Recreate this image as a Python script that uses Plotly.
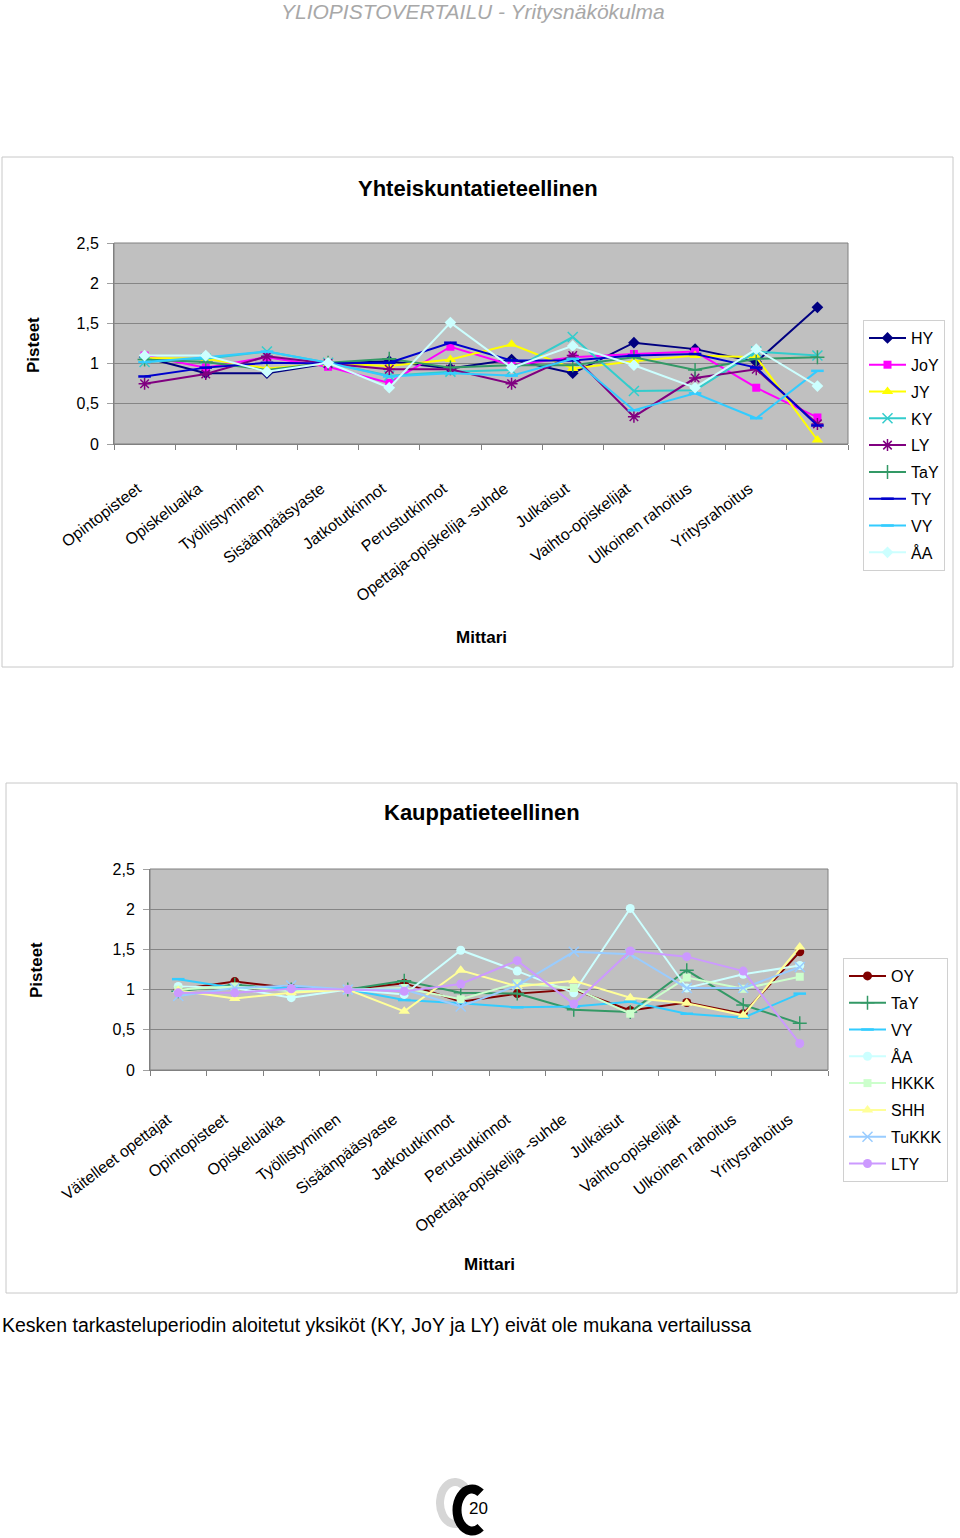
import math
import plotly.graph_objects as go

W, H = 960, 1538
def X(px): return px / W
def Y(py): return 1 - py / H

# ---------------- data ----------------
top_categories = ["Opintopisteet", "Opiskeluaika", "Työllistyminen", "Sisäänpääsyaste",
                  "Jatkotutkinnot", "Perustutkinnot", "Opettaja-opiskelija -suhde", "Julkaisut",
                  "Vaihto-opiskelijat", "Ulkoinen rahoitus", "Yritysrahoitus", " "]
top_HY = [1.08, 0.88, 0.88, 1.00, 1.03, 0.94, 1.05, 0.88, 1.26, 1.18, 1.02, 1.70]
top_JoY = [1.10, 0.95, 1.08, 0.96, 0.76, 1.21, 0.98, 1.08, 1.12, 1.15, 0.70, 0.33]
top_JY = [1.07, 1.06, 0.94, 1.00, 0.97, 1.05, 1.24, 0.94, 1.03, 1.10, 1.08, 0.05]
top_KY = [1.02, 1.06, 1.15, 1.01, 0.85, 0.90, 0.92, 1.33, 0.66, 0.67, 1.15, 1.10]
top_LY = [0.75, 0.87, 1.09, 1.00, 0.93, 0.93, 0.75, 1.10, 0.34, 0.82, 0.93, 0.25]
top_TaY = [1.05, 1.02, 0.92, 1.01, 1.06, 0.95, 0.98, 0.98, 1.08, 0.92, 1.06, 1.08]
top_TY = [0.84, 0.95, 1.01, 1.00, 1.01, 1.26, 1.04, 1.04, 1.10, 1.12, 0.95, 0.23]
top_VY = [1.02, 1.08, 1.15, 1.01, 0.84, 0.88, 0.85, 1.06, 0.42, 0.63, 0.32, 0.91]
top_AA = [1.10, 1.10, 0.90, 1.01, 0.70, 1.51, 0.95, 1.22, 0.98, 0.70, 1.18, 0.72]

bot_categories = ["Väitelleet opettajat", "Opintopisteet", "Opiskeluaika", "Työllistyminen",
                  "Sisäänpääsyaste", "Jatkotutkinnot", "Perustutkinnot", "Opettaja-opiskelija -suhde",
                  "Julkaisut", "Vaihto-opiskelijat", "Ulkoinen rahoitus", "Yritysrahoitus"]
bot_OY = [1.00, 1.10, 1.02, 1.00, 1.08, 0.85, 0.95, 1.00, 0.74, 0.84, 0.70, 1.47]
bot_TaY = [0.98, 1.06, 1.00, 1.00, 1.11, 0.96, 0.95, 0.75, 0.72, 1.24, 0.81, 0.58]
bot_VY = [1.13, 1.02, 1.02, 1.00, 0.87, 0.83, 0.78, 0.79, 0.85, 0.70, 0.65, 0.95]
bot_AA = [1.04, 1.02, 0.90, 1.00, 0.94, 1.49, 1.23, 0.96, 2.01, 1.02, 1.19, 1.30]
bot_HKKK = [1.00, 1.04, 0.98, 1.00, 1.02, 0.88, 1.08, 1.02, 0.70, 1.15, 1.01, 1.16]
bot_SHH = [0.99, 0.89, 0.96, 1.00, 0.73, 1.24, 1.04, 1.11, 0.90, 0.83, 0.68, 1.53]
bot_TuKKK = [0.92, 1.02, 1.05, 1.00, 1.00, 0.79, 1.05, 1.47, 1.44, 1.02, 1.02, 1.28]
bot_LTY = [0.96, 0.96, 1.01, 1.00, 0.98, 1.07, 1.36, 0.82, 1.48, 1.41, 1.23, 0.33]

y_tickvals = [0, 0.5, 1, 1.5, 2, 2.5]
y_ticktext = ["0", "0,5", "1", "1,5", "2", "2,5"]

FONT = "Liberation Sans, Arial, sans-serif"

# (name, values, color, symbol, size, open)
top_series = [
    ("HY", top_HY, "#000080", "diamond", 9, False),
    ("JoY", top_JoY, "#FF00FF", "square", 8, False),
    ("JY", top_JY, "#FFFF00", "triangle-up", 10, False),
    ("KY", top_KY, "#33CCCC", "x-thin-open", 10, True),
    ("LY", top_LY, "#800080", "asterisk-open", 10, True),
    ("TaY", top_TaY, "#339966", "cross-thin-open", 10, True),
    ("TY", top_TY, "#0000CC", "line-ew-open", 9, True),
    ("VY", top_VY, "#33CCFF", "line-ew-open", 9, True),
    ("ÅA", top_AA, "#CCFFFF", "diamond", 9, False),
]
bot_series = [
    ("OY", bot_OY, "#800000", "circle", 9, False),
    ("TaY", bot_TaY, "#339966", "cross-thin-open", 10, True),
    ("VY", bot_VY, "#33CCFF", "line-ew-open", 9, True),
    ("ÅA", bot_AA, "#CCFFFF", "circle", 9, False),
    ("HKKK", bot_HKKK, "#CCFFCC", "square", 8, False),
    ("SHH", bot_SHH, "#FFFF99", "triangle-up", 10, False),
    ("TuKKK", bot_TuKKK, "#99CCFF", "x-thin-open", 10, True),
    ("LTY", bot_LTY, "#CC99FF", "circle", 9, False),
]

fig = go.Figure()

def add(series, cats, xa, ya, lg, prefix):
    for name, vals, col, sym, sz, op in series:
        mk = dict(symbol=sym, size=sz, color=col)
        if op:
            mk["line"] = dict(width=2.5 if "line" in sym else 1.5, color=col)
        else:
            mk["line"] = dict(width=0)
        fig.add_trace(go.Scatter(
            x=cats, y=vals, name=name, mode="lines+markers",
            line=dict(color=col, width=2), marker=mk, legendgroup=prefix + name,
            xaxis=xa, yaxis=ya, legend=lg))

add(top_series, top_categories, "x", "y", "legend", "top_")
add(bot_series, bot_categories, "x2", "y2", "legend2", "bot_")

# plot areas (px)
T = dict(l=114, r=848, t=243, b=444)
B = dict(l=150, r=828, t=869, b=1070)

def xaxis(dom, cats, anchor, pad, standoff):
    return dict(domain=[X(dom["l"]), X(dom["r"])], anchor=anchor, type="category",
                categoryorder="array", categoryarray=cats, range=[-0.5, len(cats) - 0.5],
                tickmode="array", tickvals=cats,
                ticktext=[c + "\u00a0" * pad if c.strip() else c for c in cats],
                tickangle=-37, tickson="boundaries", ticks="outside", ticklen=5,
                tickcolor="#808080", showline=True, linecolor="#808080", linewidth=1,
                showgrid=False, zeroline=False, automargin=False, ticklabelstandoff=standoff,
                tickfont=dict(family=FONT, size=16, color="#000000"))

def yaxis(dom, anchor):
    return dict(domain=[Y(dom["b"]), Y(dom["t"])], anchor=anchor, range=[0, 2.5],
                tickvals=y_tickvals, ticktext=y_ticktext, showgrid=True, gridcolor="#858585",
                gridwidth=1, ticks="outside", ticklen=6, tickcolor="#A0A0A0", showline=True,
                linecolor="#808080", zeroline=False, automargin=False, ticklabelstandoff=5,
                tickfont=dict(family=FONT, size=16, color="#000000"))

legend_common = dict(bgcolor="#FFFFFF", bordercolor="#D0D0D0", borderwidth=1,
                     font=dict(family=FONT, size=16, color="#000000"),
                     xanchor="left", yanchor="top", traceorder="grouped", tracegroupgap=3,
                     itemwidth=37, itemclick=False, itemdoubleclick=False)

shapes = []
for box in [(2, 157, 953, 667), (6, 783, 957, 1293)]:
    shapes.append(dict(type="rect", xref="paper", yref="paper", x0=X(box[0]), x1=X(box[2]),
                       y0=Y(box[3]), y1=Y(box[1]), line=dict(color="#C8C8C8", width=1)))
for d in (T, B):
    shapes.append(dict(type="rect", xref="paper", yref="paper", x0=X(d["l"]), x1=X(d["r"]),
                       y0=Y(d["b"]), y1=Y(d["t"]), line=dict(color="#808080", width=1),
                       layer="below"))

def arc_path(cx, cy, rx, ry, a0, a1, nseg=6):
    """Elliptical arc (pixel coords, y down) as cubic Beziers in paper coords."""
    def E(t): return (cx + rx * math.cos(t), cy - ry * math.sin(t))
    def D(t): return (-rx * math.sin(t), -ry * math.cos(t))
    t0, t1 = math.radians(a0), math.radians(a1)
    step = (t1 - t0) / nseg
    k = 4 / 3 * math.tan(step / 4)
    p = E(t0)
    s = "M %.5f,%.5f" % (X(p[0]), Y(p[1]))
    for i in range(nseg):
        ta, tb = t0 + i * step, t0 + (i + 1) * step
        pa, pb = E(ta), E(tb)
        da, db = D(ta), D(tb)
        c1 = (pa[0] + k * da[0], pa[1] + k * da[1])
        c2 = (pb[0] - k * db[0], pb[1] - k * db[1])
        s += " C %.5f,%.5f %.5f,%.5f %.5f,%.5f" % (X(c1[0]), Y(c1[1]), X(c2[0]), Y(c2[1]),
                                                  X(pb[0]), Y(pb[1]))
    return s

# page logo (two "C" rings)
shapes.append(dict(type="path", xref="paper", yref="paper",
                   path=arc_path(455, 1503, 15, 21, 45, 300), line=dict(color="#D6D6D6", width=8)))
shapes.append(dict(type="path", xref="paper", yref="paper",
                   path=arc_path(472, 1510, 15, 21, 55, 305), line=dict(color="#000000", width=9)))

def ann(text, x, y, size, bold=False, italic=False, color="#000000", angle=0, xanchor="center"):
    t = text
    if bold:
        t = "<b>" + t + "</b>"
    if italic:
        t = "<i>" + t + "</i>"
    return dict(text=t, x=X(x), y=Y(y), xref="paper", yref="paper", showarrow=False,
                xanchor=xanchor, yanchor="middle", textangle=angle,
                font=dict(family=FONT, size=size, color=color))

annotations = [
    ann("YLIOPISTOVERTAILU - Yritysnäkökulma", 473, 12, 21, italic=True, color="#A8A8A8"),
    ann("Yhteiskuntatieteellinen", 478, 188, 22, bold=True),
    ann("Pisteet", 33, 345, 17, bold=True, angle=-90),
    ann("Mittari", 481, 638, 17, bold=True),
    ann("Kauppatieteellinen", 482, 813, 22, bold=True),
    ann("Pisteet", 37, 970, 17, bold=True, angle=-90),
    ann("Mittari", 489, 1264, 17, bold=True),
    ann("Kesken tarkasteluperiodin aloitetut yksiköt (KY, JoY ja LY) eivät ole mukana vertailussa",
        0, 1325, 19.5, xanchor="left"),
    ann("20", 478, 1508, 17, color="#000000"),
]

fig.update_layout(
    width=W, height=H, margin=dict(l=0, r=0, t=0, b=0),
    paper_bgcolor="#FFFFFF", plot_bgcolor="#C0C0C0",
    font=dict(family=FONT, color="#000000"),
    xaxis=xaxis(T, top_categories, "y", 2, 23),
    yaxis=yaxis(T, "x"),
    xaxis2=xaxis(B, bot_categories, "y2", 3, 25),
    yaxis2=yaxis(B, "x2"),
    legend=dict(x=X(863), y=Y(320), **legend_common),
    legend2=dict(x=X(843), y=Y(958), **legend_common),
    shapes=shapes, annotations=annotations, showlegend=True,
)

fig.write_html("out.html", config={"displayModeBar": False},
               post_script="document.body.style.margin='0px';")
